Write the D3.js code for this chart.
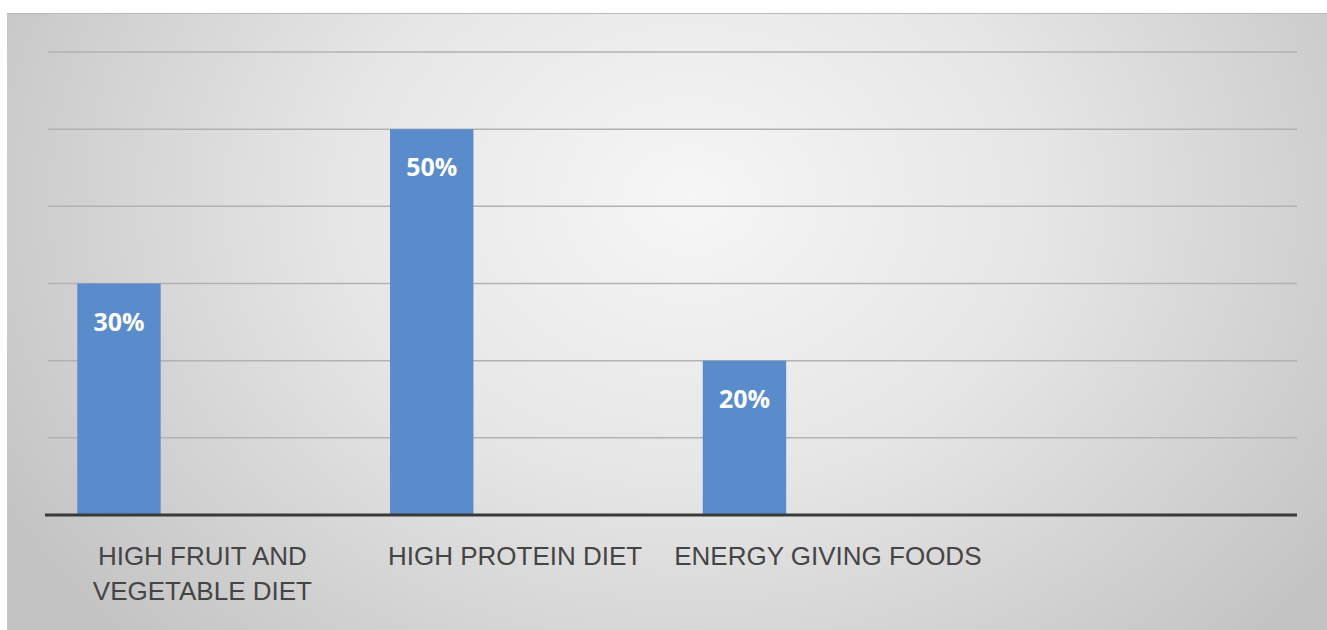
<!DOCTYPE html>
<html>
<head>
<meta charset="utf-8">
<script src="https://cdn.jsdelivr.net/npm/d3@7"></script>
<style>
  body { margin: 0; background: #fff; }
  svg { display: block; }
</style>
</head>
<body>
<div id="chart"></div>
<script>
// data
var categories = ["HIGH FRUIT AND VEGETABLE DIET", "HIGH PROTEIN DIET", "ENERGY GIVING FOODS", ""];
var seriesNames = ["Series 1", "Series 2", "Series 3"];
var series1 = [0.30, 0.50, 0.20, null];
var series2 = [null, null, null, null];
var series3 = [null, null, null, null];
var yTicks = [0, 0.1, 0.2, 0.3, 0.4, 0.5, 0.6];

var allSeries = [series1, series2, series3];

var W = 1327, H = 630;
var svg = d3.select("#chart").append("svg")
  .attr("width", W)
  .attr("height", H);

// background gradient like the Excel chart area
var defs = svg.append("defs");
var grad = defs.append("radialGradient")
  .attr("id", "bg")
  .attr("gradientUnits", "userSpaceOnUse")
  .attr("cx", 690).attr("cy", 200).attr("r", 780)
  .attr("gradientTransform", "translate(690,200) scale(1,0.8) translate(-690,-200)");
grad.append("stop").attr("offset", 0).attr("stop-color", "#f6f6f6");
grad.append("stop").attr("offset", 0.45).attr("stop-color", "#e6e6e6");
grad.append("stop").attr("offset", 1).attr("stop-color", "#c4c4c4");

svg.append("rect")
  .attr("x", 7).attr("y", 13)
  .attr("width", W - 7).attr("height", H - 13)
  .attr("fill", "url(#bg)");
svg.append("line")
  .attr("x1", 7).attr("x2", W).attr("y1", 13.5).attr("y2", 13.5)
  .attr("stroke", "#b8b8b8").attr("stroke-width", 1);

var x0 = d3.scaleBand()
  .domain(categories.map((d, i) => i))
  .range([46, 1297])
  .paddingInner(0).paddingOuter(0);

var x1 = d3.scaleBand()
  .domain(seriesNames)
  .range([0, x0.bandwidth()])
  .paddingInner(0)
  .paddingOuter(0.375);

var y = d3.scaleLinear()
  .domain([0, 0.6])
  .range([515, 52]);

// gridlines
svg.append("g")
  .selectAll("line")
  .data(yTicks.filter(t => t > 0))
  .enter().append("line")
  .attr("x1", 48).attr("x2", 1297)
  .attr("y1", d => y(d)).attr("y2", d => y(d))
  .attr("stroke", "#b2b2b2")
  .attr("stroke-width", 1.5);

// bars
seriesNames.forEach(function(name, si) {
  var vals = allSeries[si];
  var g = svg.append("g");
  g.selectAll("rect")
    .data(vals.map((v, i) => ({ i: i, v: v })).filter(d => d.v != null))
    .enter().append("rect")
    .attr("x", d => x0(d.i) + x1(name))
    .attr("y", d => y(d.v))
    .attr("width", x1.bandwidth())
    .attr("height", d => y(0) - y(d.v))
    .attr("fill", "#5a8bca");

  g.selectAll("text")
    .data(vals.map((v, i) => ({ i: i, v: v })).filter(d => d.v != null))
    .enter().append("text")
    .attr("x", d => x0(d.i) + x1(name) + x1.bandwidth() / 2)
    .attr("y", d => y(d.v) + 47)
    .attr("text-anchor", "middle")
    .attr("fill", "#ffffff")
    .attr("font-family", "'Open Sans', sans-serif")
    .attr("font-weight", 700)
    .attr("font-size", "25px")
    .text(d => d3.format(".0%")(d.v));
});

// x axis baseline
var xAxis = d3.axisBottom(x0).tickSize(0).tickFormat(i => categories[i]);
var ax = svg.append("g")
  .attr("transform", "translate(0," + y(0) + ")")
  .call(xAxis);
ax.select(".domain").remove();
svg.append("line")
  .attr("x1", 45).attr("x2", 1297)
  .attr("y1", y(0)).attr("y2", y(0))
  .attr("stroke", "#3a3a3a").attr("stroke-width", 3);

ax.selectAll("text")
  .attr("font-family", "'Liberation Sans', sans-serif")
  .attr("font-size", "26px")
  .attr("fill", "#454545")
  .attr("y", 0)
  .attr("dy", 0)
  .each(function(d) {
    var t = d3.select(this);
    var words = categories[d].split(" ");
    t.text(null);
    var lines = [], cur = [];
    var probe = t.append("tspan");
    words.forEach(function(w) {
      cur.push(w);
      probe.text(cur.join(" "));
      if (probe.node().getComputedTextLength() > x0.bandwidth() + 10 && cur.length > 1) {
        cur.pop();
        lines.push(cur.join(" "));
        cur = [w];
      }
    });
    if (cur.length) lines.push(cur.join(" "));
    probe.remove();
    lines.forEach(function(l, k) {
      t.append("tspan")
        .attr("x", 0)
        .attr("y", 50 + k * 35)
        .text(l);
    });
  });
</script>
</body>
</html>
